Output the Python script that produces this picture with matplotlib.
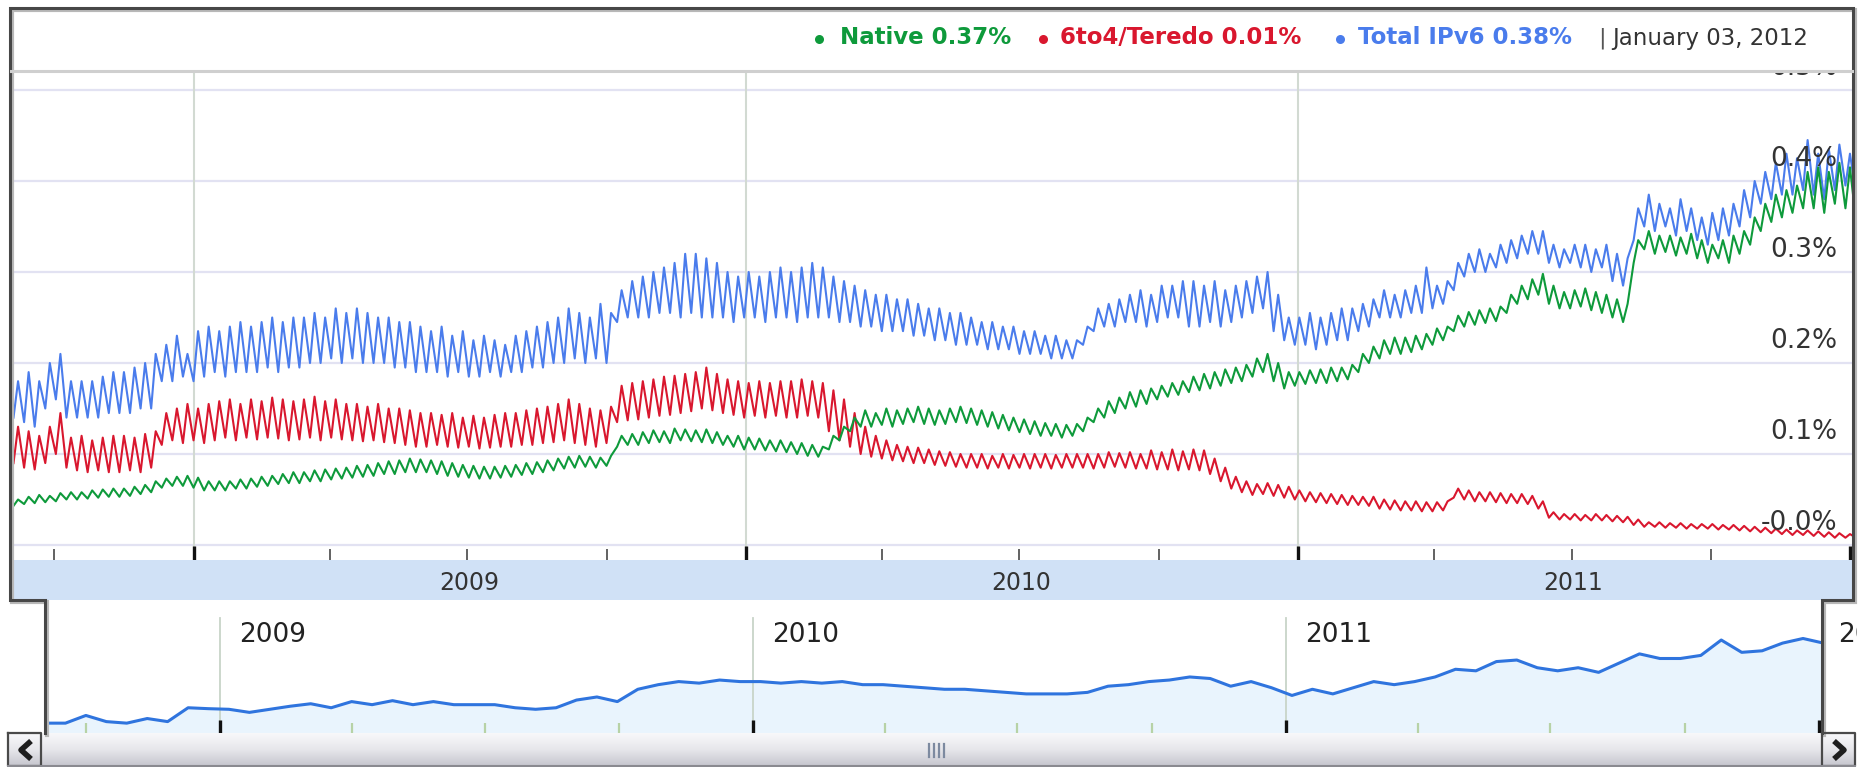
import numpy as np
import matplotlib
matplotlib.use("Agg")
import matplotlib.pyplot as plt
import matplotlib.transforms as mtransforms
from matplotlib.colors import LinearSegmentedColormap

W, H = 1862, 767

# weekly trough / peak of each series (% of users), one pair per week from 3 Sep 2008
blue_lo = [0.14, 0.135, 0.13, 0.15, 0.16, 0.14, 0.14, 0.14, 0.14, 0.145,
           0.145, 0.145, 0.15, 0.15, 0.18, 0.18, 0.185, 0.18, 0.185, 0.19,
           0.185, 0.19, 0.19, 0.19, 0.195, 0.19, 0.195, 0.195, 0.2, 0.2,
           0.205, 0.2, 0.205, 0.2, 0.2, 0.2, 0.195, 0.195, 0.19, 0.19,
           0.19, 0.185, 0.19, 0.185, 0.185, 0.19, 0.185, 0.19, 0.19, 0.195,
           0.195, 0.2, 0.2, 0.205, 0.2, 0.205, 0.2, 0.245, 0.25, 0.25,
           0.25, 0.255, 0.255, 0.25, 0.255, 0.25, 0.25, 0.25, 0.245, 0.25,
           0.25, 0.245, 0.25, 0.25, 0.245, 0.25, 0.25, 0.25, 0.245, 0.245,
           0.24, 0.24, 0.235, 0.235, 0.235, 0.23, 0.23, 0.225, 0.225, 0.22,
           0.22, 0.22, 0.215, 0.215, 0.215, 0.21, 0.21, 0.21, 0.205, 0.205,
           0.205, 0.22, 0.235, 0.24, 0.24, 0.245, 0.245, 0.24, 0.245, 0.25,
           0.25, 0.24, 0.24, 0.245, 0.24, 0.245, 0.25, 0.255, 0.26, 0.235,
           0.225, 0.22, 0.22, 0.215, 0.22, 0.225, 0.225, 0.235, 0.24, 0.25,
           0.25, 0.25, 0.255, 0.255, 0.26, 0.265, 0.28, 0.295, 0.30, 0.30,
           0.305, 0.31, 0.315, 0.32, 0.32, 0.31, 0.305, 0.31, 0.305, 0.30,
           0.305, 0.29, 0.285, 0.335, 0.35, 0.345, 0.35, 0.34, 0.345, 0.335,
           0.33, 0.335, 0.34, 0.35, 0.36, 0.375, 0.38, 0.385, 0.385, 0.39,
           0.385, 0.38, 0.39, 0.395, 0.385]
blue_hi = [0.18, 0.19, 0.18, 0.20, 0.21, 0.18, 0.18, 0.18, 0.185, 0.19,
           0.19, 0.195, 0.20, 0.21, 0.22, 0.23, 0.21, 0.235, 0.24, 0.235,
           0.24, 0.245, 0.24, 0.245, 0.25, 0.245, 0.25, 0.25, 0.255, 0.25,
           0.26, 0.255, 0.26, 0.255, 0.25, 0.25, 0.245, 0.245, 0.24, 0.235,
           0.24, 0.23, 0.235, 0.225, 0.23, 0.225, 0.22, 0.23, 0.235, 0.24,
           0.245, 0.25, 0.26, 0.255, 0.25, 0.265, 0.255, 0.28, 0.29, 0.295,
           0.30, 0.305, 0.31, 0.32, 0.32, 0.315, 0.31, 0.30, 0.295, 0.30,
           0.295, 0.30, 0.305, 0.30, 0.305, 0.31, 0.305, 0.295, 0.29, 0.285,
           0.28, 0.275, 0.275, 0.27, 0.27, 0.265, 0.26, 0.26, 0.255, 0.255,
           0.25, 0.245, 0.245, 0.24, 0.24, 0.235, 0.235, 0.23, 0.23, 0.225,
           0.225, 0.24, 0.26, 0.265, 0.27, 0.275, 0.28, 0.275, 0.285, 0.285,
           0.29, 0.29, 0.285, 0.29, 0.28, 0.285, 0.29, 0.295, 0.30, 0.275,
           0.25, 0.25, 0.255, 0.25, 0.255, 0.26, 0.26, 0.265, 0.27, 0.28,
           0.275, 0.28, 0.285, 0.305, 0.285, 0.29, 0.31, 0.32, 0.325, 0.32,
           0.33, 0.335, 0.34, 0.345, 0.345, 0.33, 0.325, 0.33, 0.33, 0.325,
           0.33, 0.32, 0.315, 0.37, 0.385, 0.375, 0.37, 0.38, 0.37, 0.36,
           0.365, 0.37, 0.375, 0.39, 0.40, 0.41, 0.42, 0.43, 0.425, 0.445,
           0.43, 0.435, 0.44, 0.43, 0.42]
green_lo = [0.043, 0.045, 0.046, 0.047, 0.048, 0.05, 0.05, 0.051, 0.052, 0.053,
            0.053, 0.054, 0.056, 0.058, 0.063, 0.065, 0.065, 0.063, 0.06, 0.06,
            0.06, 0.062, 0.062, 0.064, 0.065, 0.067, 0.068, 0.068, 0.07, 0.07,
            0.072, 0.073, 0.074, 0.075, 0.076, 0.078, 0.078, 0.08, 0.08, 0.08,
            0.078, 0.076, 0.075, 0.074, 0.073, 0.073, 0.074, 0.075, 0.077, 0.078,
            0.08, 0.082, 0.084, 0.085, 0.086, 0.085, 0.087, 0.108, 0.11, 0.11,
            0.112, 0.113, 0.112, 0.115, 0.114, 0.113, 0.112, 0.11, 0.108, 0.105,
            0.105, 0.104, 0.103, 0.102, 0.1, 0.098, 0.097, 0.105, 0.115, 0.125,
            0.13, 0.13, 0.132, 0.13, 0.133, 0.135, 0.133, 0.132, 0.133, 0.135,
            0.134, 0.132, 0.13, 0.128, 0.126, 0.124, 0.122, 0.12, 0.12, 0.118,
            0.12, 0.125, 0.135, 0.14, 0.145, 0.15, 0.152, 0.155, 0.16, 0.163,
            0.165, 0.168, 0.17, 0.172, 0.175, 0.178, 0.18, 0.185, 0.19, 0.18,
            0.172, 0.175, 0.177, 0.178, 0.178, 0.18, 0.182, 0.19, 0.2, 0.205,
            0.21, 0.21, 0.212, 0.215, 0.22, 0.225, 0.235, 0.24, 0.242, 0.244,
            0.246, 0.255, 0.265, 0.27, 0.275, 0.265, 0.26, 0.26, 0.262, 0.258,
            0.255, 0.25, 0.245, 0.31, 0.325, 0.32, 0.322, 0.318, 0.32, 0.315,
            0.31, 0.315, 0.31, 0.32, 0.33, 0.345, 0.355, 0.36, 0.365, 0.37,
            0.37, 0.365, 0.375, 0.37, 0.355]
green_hi = [0.05, 0.053, 0.055, 0.054, 0.057, 0.058, 0.058, 0.06, 0.061, 0.062,
            0.062, 0.064, 0.066, 0.07, 0.073, 0.075, 0.076, 0.074, 0.07, 0.07,
            0.07, 0.072, 0.073, 0.075, 0.076, 0.078, 0.08, 0.08, 0.082, 0.083,
            0.084, 0.085, 0.087, 0.088, 0.09, 0.092, 0.093, 0.095, 0.094, 0.093,
            0.092, 0.09, 0.088, 0.087, 0.086, 0.086, 0.087, 0.088, 0.09, 0.091,
            0.093, 0.095, 0.097, 0.098, 0.097, 0.096, 0.098, 0.12, 0.122, 0.124,
            0.126, 0.125, 0.128, 0.127, 0.126, 0.127, 0.124, 0.12, 0.12, 0.118,
            0.117, 0.115, 0.115, 0.113, 0.112, 0.11, 0.108, 0.12, 0.13, 0.14,
            0.148, 0.145, 0.15, 0.148, 0.15, 0.152, 0.15, 0.148, 0.15, 0.152,
            0.15, 0.148, 0.146, 0.143, 0.14, 0.138, 0.136, 0.134, 0.133, 0.132,
            0.133, 0.14, 0.15, 0.158, 0.162, 0.168, 0.17, 0.172, 0.175, 0.178,
            0.18, 0.185, 0.188, 0.19, 0.193, 0.195, 0.198, 0.205, 0.21, 0.2,
            0.19, 0.19, 0.192, 0.193, 0.195, 0.195, 0.198, 0.21, 0.218, 0.225,
            0.228, 0.228, 0.23, 0.232, 0.238, 0.24, 0.252, 0.256, 0.258, 0.26,
            0.262, 0.275, 0.285, 0.292, 0.298, 0.285, 0.278, 0.28, 0.282, 0.278,
            0.275, 0.27, 0.265, 0.335, 0.345, 0.34, 0.34, 0.338, 0.342, 0.335,
            0.33, 0.335, 0.34, 0.345, 0.36, 0.375, 0.385, 0.39, 0.395, 0.41,
            0.415, 0.41, 0.42, 0.415, 0.40]
red_lo = [0.09, 0.085, 0.083, 0.09, 0.1, 0.085, 0.082, 0.08, 0.082, 0.08,
          0.08, 0.082, 0.08, 0.085, 0.11, 0.115, 0.112, 0.115, 0.112, 0.115,
          0.118, 0.115, 0.118, 0.116, 0.118, 0.117, 0.115, 0.116, 0.118, 0.115,
          0.118, 0.116, 0.115, 0.114, 0.115, 0.113, 0.112, 0.11, 0.108, 0.108,
          0.11, 0.108, 0.107, 0.108, 0.106, 0.107, 0.108, 0.108, 0.11, 0.11,
          0.112, 0.113, 0.115, 0.112, 0.11, 0.108, 0.112, 0.135, 0.137, 0.138,
          0.14, 0.142, 0.143, 0.145, 0.147, 0.15, 0.148, 0.145, 0.143, 0.14,
          0.142, 0.14, 0.142, 0.14, 0.14, 0.142, 0.14, 0.125, 0.115, 0.108,
          0.1, 0.097, 0.095, 0.093, 0.092, 0.09, 0.09, 0.088, 0.087, 0.086,
          0.085, 0.085, 0.084, 0.085, 0.084, 0.085, 0.084, 0.085, 0.084, 0.085,
          0.085, 0.085, 0.084, 0.085, 0.086, 0.085, 0.084, 0.084, 0.083, 0.083,
          0.082, 0.083, 0.082, 0.078, 0.07, 0.062, 0.058, 0.055, 0.056, 0.054,
          0.052, 0.05, 0.048, 0.047, 0.046, 0.045, 0.044, 0.044, 0.043, 0.04,
          0.039, 0.038, 0.038, 0.037, 0.037, 0.038, 0.052, 0.05, 0.048, 0.048,
          0.047, 0.046, 0.046, 0.045, 0.04, 0.03, 0.028, 0.028, 0.027, 0.027,
          0.027, 0.026, 0.025, 0.022, 0.02, 0.02, 0.019, 0.019, 0.018, 0.018,
          0.018, 0.017, 0.017, 0.016, 0.015, 0.014, 0.013, 0.012, 0.011, 0.011,
          0.01, 0.009, 0.008, 0.008, 0.008]
red_hi = [0.13, 0.125, 0.12, 0.13, 0.145, 0.118, 0.12, 0.115, 0.118, 0.12,
          0.12, 0.118, 0.122, 0.125, 0.145, 0.15, 0.155, 0.15, 0.155, 0.158,
          0.16, 0.155, 0.16, 0.158, 0.162, 0.16, 0.158, 0.16, 0.163, 0.158,
          0.16, 0.155, 0.155, 0.152, 0.155, 0.15, 0.15, 0.148, 0.145, 0.145,
          0.143, 0.145, 0.14, 0.142, 0.14, 0.143, 0.145, 0.145, 0.148, 0.15,
          0.152, 0.155, 0.16, 0.155, 0.15, 0.148, 0.152, 0.175, 0.178, 0.18,
          0.182, 0.185, 0.186, 0.188, 0.19, 0.195, 0.188, 0.182, 0.18, 0.178,
          0.18, 0.178, 0.18, 0.18, 0.182, 0.18, 0.178, 0.17, 0.16, 0.145,
          0.13, 0.12, 0.115, 0.11, 0.108, 0.107, 0.105, 0.103, 0.102, 0.1,
          0.1, 0.1, 0.098, 0.1, 0.099, 0.1, 0.1, 0.1, 0.099, 0.1,
          0.1, 0.1, 0.1, 0.102, 0.101, 0.102, 0.1, 0.104, 0.102, 0.105,
          0.103, 0.105, 0.104, 0.095, 0.085, 0.075, 0.07, 0.067, 0.068, 0.066,
          0.064, 0.06, 0.058, 0.057, 0.056, 0.055, 0.054, 0.053, 0.053, 0.05,
          0.049, 0.048, 0.048, 0.047, 0.047, 0.048, 0.062, 0.06, 0.058, 0.058,
          0.057, 0.056, 0.056, 0.054, 0.048, 0.036, 0.034, 0.034, 0.033, 0.034,
          0.033, 0.032, 0.031, 0.028, 0.025, 0.025, 0.024, 0.024, 0.023, 0.023,
          0.023, 0.022, 0.022, 0.021, 0.02, 0.019, 0.018, 0.017, 0.016, 0.016,
          0.015, 0.014, 0.013, 0.012, 0.012]

# overview strip (Total IPv6), one value every two weeks from 3 Sep 2008
nav_total = [0.14, 0.14, 0.165, 0.145, 0.14, 0.155, 0.145, 0.19, 0.187, 0.185,
             0.175, 0.185, 0.195, 0.203, 0.19, 0.21, 0.2, 0.213, 0.2, 0.21,
             0.2, 0.2, 0.2, 0.19, 0.185, 0.19, 0.215, 0.225, 0.21, 0.25,
             0.265, 0.275, 0.27, 0.28, 0.275, 0.275, 0.27, 0.275, 0.27, 0.275,
             0.265, 0.265, 0.26, 0.255, 0.25, 0.25, 0.245, 0.24, 0.235, 0.235,
             0.235, 0.24, 0.26, 0.265, 0.275, 0.28, 0.29, 0.285, 0.26, 0.275,
             0.255, 0.23, 0.25, 0.235, 0.255, 0.275, 0.265, 0.275, 0.29, 0.315,
             0.31, 0.34, 0.345, 0.32, 0.31, 0.32, 0.305, 0.335, 0.365, 0.35,
             0.35, 0.36, 0.41, 0.37, 0.375, 0.40, 0.415, 0.40]

y_vals = [0.0, 0.1, 0.2, 0.3, 0.4, 0.5]
y_labels = ["-0.0%", "0.1%", "0.2%", "0.3%", "0.4%", "0.5%"]
years = ["2009", "2010", "2011"]
legend_names = ["Native", "6to4/Teredo", "Total IPv6"]
legend_values = ["0.37%", "0.01%", "0.38%"]
legend_date = "January 03, 2012"

c_native, c_teredo, c_total = "#0e9a3b", "#d9172e", "#4a7cec"

start = np.datetime64("2008-09-03")
t0, t1 = start, np.datetime64("2012-01-03")
n = min(len(blue_lo), len(blue_hi), len(green_lo), len(green_hi), len(red_lo), len(red_hi))
week = start + np.arange(n) * np.timedelta64(7, "D")
xs = np.column_stack([week + np.timedelta64(1, "D"), week + np.timedelta64(4, "D")]).ravel()


def zig(lo, hi):
    return np.column_stack([lo[:n], hi[:n]]).ravel()


def box(x0, y0, x1, y1):
    return [x0 / W, 1 - y1 / H, (x1 - x0) / W, (y1 - y0) / H]


def bare(ax):
    ax.set_xticks([])
    ax.set_yticks([])
    for s in ax.spines.values():
        s.set_visible(False)


jans = [np.datetime64(y + "-01-01") for y in ["2009", "2010", "2011", "2012"]]
quarters = [np.datetime64(f"{y}-{m:02d}-01") for y in range(2008, 2012) for m in (1, 4, 7, 10)]
quarters = [q for q in quarters if t0 < q < t1 and q not in jans]

fig = plt.figure(figsize=(W / 100, H / 100), dpi=100)
fig.patch.set_facecolor("white")

# main chart
ymin = -15 / 910
ax = fig.add_axes(box(12, 71, 1853, 560))
bare(ax)
ax.set_xlim(t0, t1)
ax.set_ylim(ymin, 474 / 910)
for v in y_vals:
    ax.axhline(v, color="#e2e2f2", lw=1.6, zorder=1)
for d in jans[:3]:
    ax.axvline(d, color="#d2dad2", lw=1.5, zorder=1)
ax.plot(xs, zig(blue_lo, blue_hi), color=c_total, lw=1.5, zorder=3)
ax.plot(xs, zig(red_lo, red_hi), color=c_teredo, lw=1.5, zorder=3)
ax.plot(xs, zig(green_lo, green_hi), color=c_native, lw=1.5, zorder=3)
ax.vlines(quarters, ymin, ymin + 11 / 910, color="#555555", lw=1.3, zorder=4)
ax.vlines(jans, ymin, ymin + 14 / 910, color="#111111", lw=2.4, zorder=4)
tr = mtransforms.blended_transform_factory(ax.transAxes, ax.transData)
for v, lab in zip(y_vals, y_labels):
    ax.text(0.9913, v + 0.0245, lab, transform=tr, ha="right", va="center",
            fontsize=19, color="#333333", zorder=5, clip_on=True)

# year band
axb = fig.add_axes(box(12, 560, 1853, 600))
bare(axb)
axb.set_facecolor("#d0e1f6")
axb.set_xlim(t0, t1)
axb.set_ylim(0, 1)
for y in years:
    axb.text(np.datetime64(y + "-07-02"), 0.42, y, ha="center", va="center",
             fontsize=17, color="#333333")

# overview strip
nav_lo, nav_hi = 0.108, 0.54
axn = fig.add_axes(box(45, 600, 1822, 733))
bare(axn)
axn.set_xlim(t0, t1)
axn.set_ylim(nav_lo, nav_hi)
nav_x = start + np.arange(len(nav_total)) * np.timedelta64(14, "D")
axn.fill_between(nav_x, nav_total, nav_lo, color="#e9f4fd", lw=0, zorder=1)
axn.plot(nav_x, nav_total, color="#2f74de", lw=2.2, zorder=3)
for d, y in zip(jans[:3], years):
    axn.axvline(d, ymin=0, ymax=0.865, color="#c8d4c8", lw=1.3, zorder=2)
    axn.text(d + np.timedelta64(13, "D"), nav_lo + 0.737 * (nav_hi - nav_lo), y,
             ha="left", va="center", fontsize=19, color="#222222", zorder=4)
axn.vlines(quarters, nav_lo, nav_lo + 0.075 * (nav_hi - nav_lo), color="#b7d2a6", lw=1.6, zorder=4)
axn.vlines(jans, nav_lo, nav_lo + 0.1 * (nav_hi - nav_lo), color="#111111", lw=2.4, zorder=4)

# cut-off 2012 label right of the strip
axt = fig.add_axes(box(1823, 600, 1857, 733))
axt.set_axis_off()
axt.text(0.44, 0.737, "2012", transform=axt.transAxes, ha="left", va="center",
         fontsize=19, color="#222222", clip_on=True)

# scrollbar
axs = fig.add_axes(box(8, 733, 1855, 767))
bare(axs)
grad = LinearSegmentedColormap.from_list("sb", ["#f8f8fa", "#e6e6ea", "#c4c4cd"])
axs.imshow(np.linspace(0, 1, 40).reshape(-1, 1), cmap=grad, aspect="auto",
           extent=[0, 1, 1, 0], interpolation="bilinear")
axs.set_xlim(0, 1)
axs.set_ylim(1, 0)

# frame, header and decorations in pixel space
ov = fig.add_axes([0, 0, 1, 1])
ov.set_axis_off()
ov.set_xlim(0, W)
ov.set_ylim(H, 0)
ov.patch.set_alpha(0)
left = [(45, 733), (45, 600), (10, 600), (10, 8), (1853, 8), (1853, 600), (1822, 600), (1822, 733)]
lx, ly = zip(*left)
ov.plot(np.array(lx) + 1.5, np.array(ly) + 1.5, color="#b8b8b8", lw=3, solid_joinstyle="miter")
ov.plot(lx, ly, color="#474747", lw=2.2, solid_joinstyle="miter")
ov.plot([11, 1852], [71, 71], color="#cfcfcf", lw=2.2)
for bx in (8, 1822):
    ov.plot([bx, bx + 33, bx + 33, bx, bx], [733, 733, 766, 766, 733], color="#4a4a4a", lw=1.6)
ov.plot([8, 1855], [766, 766], color="#8a8a90", lw=1.5)
ov.plot([31, 21, 31], [741, 750, 759], color="#1e1e1e", lw=4, solid_capstyle="butt")
ov.plot([1834, 1844, 1834], [741, 750, 759], color="#1e1e1e", lw=4, solid_capstyle="butt")
for gx in (929, 934, 939, 944):
    ov.plot([gx, gx], [744, 757], color="#7d8aa0", lw=1.6)

# legend line
dots = [819, 1043, 1340]
starts = [840, 1060, 1358]
for dx, sx, name, val, c in zip(dots, starts, legend_names, legend_values,
                                [c_native, c_teredo, c_total]):
    ov.plot(dx, 39, "o", ms=6.5, color=c, mec="none")
    ov.text(sx, 38, f"{name} {val}", ha="left", va="center", fontsize=16.5,
            fontweight="bold", color=c)
ov.text(1598, 38, "|", ha="left", va="center", fontsize=16, color="#555555")
ov.text(1612, 38, legend_date, ha="left", va="center", fontsize=16.5, color="#333333")

fig.savefig("out.png", dpi=100)
